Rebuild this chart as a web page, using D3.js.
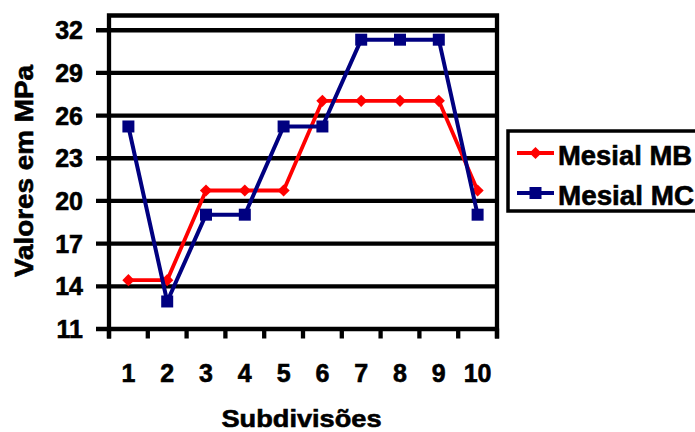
<!DOCTYPE html>
<html>
<head>
<meta charset="utf-8">
<script src="https://cdn.jsdelivr.net/npm/d3@7"></script>
<style>
  html, body { margin: 0; padding: 0; background: #fff; }
  svg { display: block; }
  text { font-family: "Liberation Sans", Arial, sans-serif; font-weight: bold; fill: #000; stroke: #000; stroke-width: 0.6px; }
</style>
</head>
<body>
<svg id="chart" width="695" height="432"></svg>
<script>
// Subdivision labels along the x axis
const categories = ["1", "2", "3", "4", "5", "6", "7", "8", "9", "10"];
// Stress values (MPa) for each series
const mesialMB = [14.4, 14.4, 20.7, 20.7, 20.7, 27.0, 27.0, 27.0, 27.0, 20.7];
const mesialMC = [25.2, 12.9, 19.0, 19.0, 25.2, 25.2, 31.3, 31.3, 31.3, 19.0];
const seriesNames = ["Mesial MB", "Mesial MC"];
const yTicks = [11, 14, 17, 20, 23, 26, 29, 32];
const yDomain = [11, 33];

const svg = d3.select("#chart");
const plot = { left: 109, right: 497, top: 15.5, bottom: 328.5 };

const x = d3.scaleBand().domain(categories).range([plot.left, plot.right]);
const y = d3.scaleLinear().domain(yDomain).range([plot.bottom, plot.top]);

// Horizontal gridlines with their outside tick marks
const yAxis = d3.axisLeft(y)
  .tickValues(yTicks)
  .tickSize(-(plot.right - plot.left))
  .tickSizeOuter(0)
  .tickPadding(0)
  .tickFormat(d3.format("d"));
const gy = svg.append("g").attr("transform", `translate(${plot.left},0)`).call(yAxis);
gy.select(".domain").remove();
gy.selectAll(".tick line")
  .attr("x1", -13)
  .attr("stroke", "#000")
  .attr("stroke-width", 4.3);
gy.selectAll(".tick text")
  .attr("x", -26)
  .attr("dy", "0.36em")
  .attr("font-size", 25)
  .attr("text-anchor", "end");

// Category boundary tick marks below the plot
const bounds = categories.map(c => x(c)).concat([plot.right]);
svg.append("g").selectAll("line").data(bounds).join("line")
  .attr("x1", d => d).attr("x2", d => d)
  .attr("y1", plot.bottom).attr("y2", plot.bottom + 10)
  .attr("stroke", "#000").attr("stroke-width", 4.3);

// Plot frame
svg.append("path")
  .attr("d", `M${plot.left},${plot.bottom + 10}V${plot.top}H${plot.right}V${plot.bottom + 10}`)
  .attr("fill", "none").attr("stroke", "#000").attr("stroke-width", 4.3);

// X tick labels
const xAxis = d3.axisBottom(x).tickSize(0).tickPadding(0);
const gx = svg.append("g").attr("transform", `translate(0,${plot.bottom})`).call(xAxis);
gx.select(".domain").remove();
gx.selectAll(".tick text")
  .attr("y", 53)
  .attr("dy", 0)
  .attr("font-size", 25);

// Axis titles
svg.append("text")
  .attr("x", 301.5).attr("y", 427)
  .attr("text-anchor", "middle")
  .attr("font-size", 24)
  .attr("textLength", 160)
  .attr("lengthAdjust", "spacingAndGlyphs")
  .text("Subdivisões");

svg.append("text")
  .attr("transform", "translate(33,171) rotate(-90)")
  .attr("text-anchor", "middle")
  .attr("font-size", 25)
  .attr("textLength", 212)
  .attr("lengthAdjust", "spacingAndGlyphs")
  .text("Valores em MPa");

const cx = c => x(c) + x.bandwidth() / 2;
const line = d3.line().x((d, i) => cx(categories[i])).y(d => y(d));

const diamond = d3.symbol().type(d3.symbolDiamond2).size(95);
const square = d3.symbol().type(d3.symbolSquare).size(144);

const series = [
  { name: seriesNames[0], values: mesialMB, color: "#ff0000", width: 3.8, symbol: diamond },
  { name: seriesNames[1], values: mesialMC, color: "#000080", width: 4, symbol: square }
];

series.forEach(s => {
  const g = svg.append("g");
  g.append("path")
    .attr("d", line(s.values))
    .attr("fill", "none")
    .attr("stroke", s.color)
    .attr("stroke-width", s.width)
    .attr("stroke-linejoin", "round");
  g.selectAll("path.mark").data(s.values).join("path")
    .attr("class", "mark")
    .attr("transform", (d, i) => `translate(${cx(categories[i])},${y(d)})`)
    .attr("d", s.symbol)
    .attr("fill", s.color);
});

// Legend
const legend = svg.append("g");
legend.append("rect")
  .attr("x", 508).attr("y", 131)
  .attr("width", 200).attr("height", 80)
  .attr("fill", "#fff").attr("stroke", "#000").attr("stroke-width", 3.5);
series.forEach((s, i) => {
  const ly = 153 + i * 40;
  legend.append("line")
    .attr("x1", 517).attr("x2", 554).attr("y1", ly).attr("y2", ly)
    .attr("stroke", s.color).attr("stroke-width", s.width);
  legend.append("path")
    .attr("transform", `translate(535.5,${ly})`)
    .attr("d", s.symbol)
    .attr("fill", s.color);
  legend.append("text")
    .attr("x", 558).attr("y", ly + 11.5)
    .attr("font-size", 28)
    .attr("textLength", i === 0 ? 134 : 136)
    .attr("lengthAdjust", "spacingAndGlyphs")
    .text(s.name);
});
</script>
</body>
</html>
